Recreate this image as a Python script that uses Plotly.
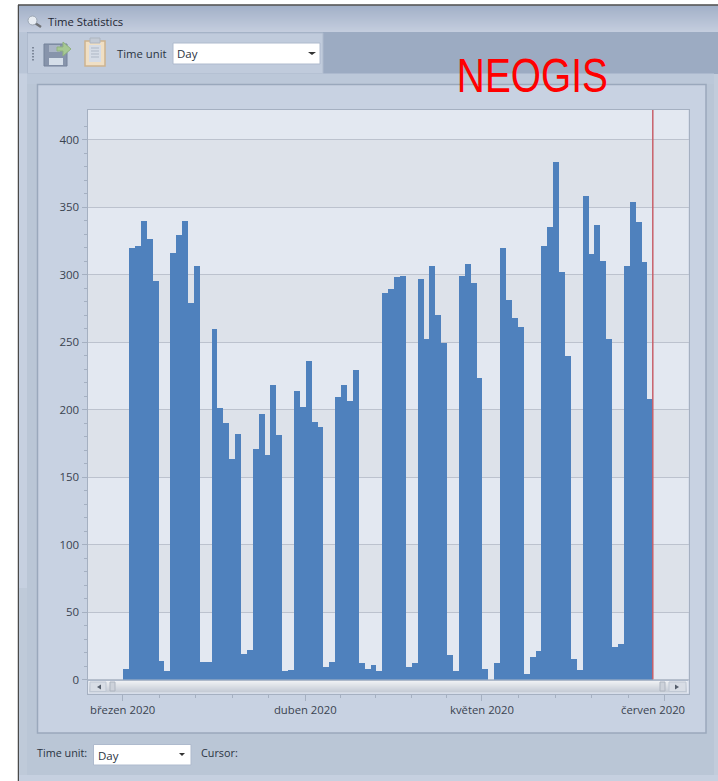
import plotly.graph_objects as go
import pandas as pd

W, H = 718, 781

# ---- data ----
start_date = "2020-03-01"
counts = [
    8, 320, 321, 340, 326, 295, 14, 6,
    316, 329, 340, 279, 306, 13, 13,
    260, 201, 190, 163, 182, 19, 22,
    171, 197, 166, 218, 181, 6, 7,
    214, 202, 236, 191, 187, 9, 13,
    209, 218, 206, 229, 12, 8, 11, 6,
    286, 289, 298, 299, 9, 12,
    297, 252, 306, 270, 249, 18, 6,
    299, 308, 294, 223, 8, 0, 12,
    320, 281, 268, 261, 4, 17, 21,
    321, 335, 383, 302, 240, 15, 7,
    358, 315, 337, 310, 252, 24, 26,
    306, 354, 339, 309, 208,
]
month_ticks = ["2020-03-01", "2020-04-01", "2020-05-01", "2020-06-01"]
month_labels = ["březen 2020", "duben 2020", "květen 2020", "červen 2020"]
y_ticks = [0, 50, 100, 150, 200, 250, 300, 350, 400]
cursor_date = "2020-05-30"
dates = pd.date_range(start_date, periods=len(counts), freq="D")

# ---- layout constants (pixels) ----
PX0, PX1, PY0, PY1 = 87.5, 688.5, 110, 693.5
Y_ZERO, PX_PER_UNIT = 679.5, 1.35
X_MAR1, PX_PER_DAY = 122.7, 5.89

yr = [-(PY1 - Y_ZERO) / PX_PER_UNIT, (Y_ZERO - PY0) / PX_PER_UNIT]
t0 = pd.Timestamp(start_date)
xr = [t0 + pd.Timedelta(days=(PX0 - X_MAR1) / PX_PER_DAY),
      t0 + pd.Timedelta(days=(PX1 - X_MAR1) / PX_PER_DAY)]

minor_x = []
for a, b in zip(month_ticks[:-1], month_ticks[1:]):
    a, b = pd.Timestamp(a), pd.Timestamp(b)
    minor_x += [a + (b - a) * i / 5 for i in range(1, 5)]
minor_x.insert(0, t0 - (pd.Timestamp(month_ticks[1]) - t0) / 5)

shapes, ann = [], []
def fx(x): return x / W
def fy(y): return 1 - y / H

def rect(x0, y0, x1, y1, fill, line=None, lw=1, layer="below"):
    shapes.append(dict(type="rect", xref="paper", yref="paper", x0=fx(x0), x1=fx(x1),
                       y0=fy(y1), y1=fy(y0), fillcolor=fill, layer=layer,
                       line=dict(color=line or "rgba(0,0,0,0)", width=lw if line else 0)))

def poly(points, fill, line=None, lw=1, layer="below"):
    d = "M" + " L".join(f"{fx(x):.5f},{fy(y):.5f}" for x, y in points) + " Z"
    shapes.append(dict(type="path", xref="paper", yref="paper", path=d, fillcolor=fill, layer=layer,
                       line=dict(color=line or "rgba(0,0,0,0)", width=lw if line else 0)))

def lin(x0, y0, x1, y1, color, lw=1, layer="below"):
    shapes.append(dict(type="line", xref="paper", yref="paper", x0=fx(x0), x1=fx(x1),
                       y0=fy(y0), y1=fy(y1), layer=layer, line=dict(color=color, width=lw)))

def vgrad(x0, y0, x1, y1, c0, c1, layer="below", steps=None):
    steps = steps or max(1, int(y1 - y0))
    a = [int(c0[i:i + 2], 16) for i in (1, 3, 5)]
    b = [int(c1[i:i + 2], 16) for i in (1, 3, 5)]
    for i in range(steps):
        t = i / max(1, steps - 1)
        c = "rgb(%d,%d,%d)" % tuple(round(p + (q - p) * t) for p, q in zip(a, b))
        rect(x0, y0 + (y1 - y0) * i / steps, x1, y0 + (y1 - y0) * (i + 1) / steps + .5, c, layer=layer)

def text(x, y, s, size=12, color="#2f3a4a", anchor="left", family="Open Sans"):
    ann.append(dict(xref="paper", yref="paper", x=fx(x), y=fy(y), text=s, showarrow=False,
                    xanchor=anchor, yanchor="middle", borderpad=0,
                    font=dict(family=family, size=size, color=color)))

# ---- window chrome ----
rect(18, 5, W, H, "#BAC6D6")
lin(18, 5, W, 5, "#4a4a4a", 1.5)
lin(18.5, 5, 18.5, H, "#4a4a4a", 1.5)
rect(19, 588, 27, 775, "#BFCAD9")
rect(19, 73, 27, 588, "#C6D0E0")
rect(19, 775, W, H, "#C6D0E0")
rect(714, 73, W, 775, "#C2CCDB")
vgrad(19, 6, W, 32, "#A3B1C8", "#C4CDDE")
rect(19, 32, W, 74, "#9CABC2")
rect(19, 32, 27, 74, "#B9C5D7")
rect(27.5, 33, 323, 73.5, "#C0CBDC", "#AEBACD", 1)
rect(19, 73.5, 27, 80, "#C6D0E0")
rect(27, 73.5, 714, 84, "#BCC8D9")

# magnifier icon
lin(35, 23, 41, 27, "#6f7276", 2.5)
shapes.append(dict(type="circle", xref="paper", yref="paper", x0=fx(28), x1=fx(37),
                   y0=fy(25), y1=fy(16), fillcolor="#E8EDF3", line=dict(color="#9ba6b3", width=1), layer="below"))

# grip
for gy in (47, 50, 53, 56, 59):
    rect(32, gy, 34, gy + 1.5, "#7d8899")

# save icon
rect(44, 44, 67, 66, "#8794AB", "#75829A", 1)
rect(49, 58, 63, 65, "#D5DEE9")
rect(49, 45, 60, 52, "#A9B4C6")
poly([(57, 47), (63, 47), (63, 42), (71, 49), (63, 56), (63, 51), (57, 51)], "#A6C893", "#90B27F", 1)

# clipboard icon
rect(85, 41, 105, 66, "#F0DFC4", "#CDB48F", 1.5)
rect(89, 45, 101, 62, "#D6DCE6")
for ly in (48, 51, 54, 57):
    lin(91, ly, 99, ly, "#AEB7C5", 1)
rect(90, 38, 100, 43, "#C3CAD5", "#AEB5BF", 1)

# combos
rect(173, 43, 320, 64, "#FFFFFF", "#AEBACD", 1)
poly([(308, 52), (316, 52), (312, 55)], "#333333")
rect(93.5, 744.5, 191, 765, "#FFFFFF", "#AEBACD", 1)
poly([(179, 753), (185, 753), (182, 756)], "#333333")

# chart panel
rect(37.5, 84.5, 706, 733, "#C8D2E2", "#9AA8BC", 1.5)

# alternating plot bands
rect(PX0, PY0, PX1, PY1, "#E3E8F1")
for lo, hi in zip(y_ticks[1::2], y_ticks[2::2]):
    shapes.append(dict(type="rect", xref="x", yref="y", x0=xr[0], x1=xr[1], y0=lo, y1=hi,
                       fillcolor="#DDE2EA", line=dict(width=0), layer="below"))

# cursor line, drawn from the axis scale
shapes.append(dict(type="line", xref="x", yref="y", x0=cursor_date, x1=cursor_date, y0=0, y1=yr[1],
                   line=dict(color="#C8606A", width=1.5), layer="above"))

# scrollbar on top of the plot
vgrad(89, 681, 687, 692, "#EEF0F3", "#C6CCD6", layer="above", steps=11)
rect(PX0, 679.5, PX1, 681, "#AEB9CA", layer="above")
for bx0, bx1 in ((90, 106), (669, 686)):
    rect(bx0, 682, bx1, 691.5, "#D8DDE5", "#BFC7D3", 1, layer="above")
poly([(101, 684.5), (101, 689.5), (97, 687)], "#555E6B", layer="above")
poly([(675, 684.5), (675, 689.5), (679, 687)], "#555E6B", layer="above")
rect(110, 682, 115, 691, "#CDD2DA", "#AEB5C0", 1, layer="above")
rect(660, 682, 665, 691, "#CDD2DA", "#AEB5C0", 1, layer="above")

# texts
text(46.5, 21, "Time Statistics", 11.3, "#1f2733")
text(116, 53.5, "Time unit", 11.3, "#2b3442")
text(176, 54, "Day", 11.5, "#2b3442")
text(36, 752, "Time unit:", 10.8, "#2b3442")
text(97, 755, "Day", 11.5, "#2b3442")
text(200, 752, "Cursor:", 10.8, "#2b3442")
text(532.5, 75, "NEOGIS", 48, "#FF0000", "center", "Liberation Sans")
# the last month label sits left of its tick, kept inside the plot width
text(652.5, 709, month_labels[-1], 11.3, "#3a4350", "center")

tick_text = month_labels[:-1] + [""]

fig = go.Figure(go.Bar(
    x=dates, y=counts, width=86400000, offset=0,
    marker=dict(color="#4F81BD", line=dict(color="#8FAED6", width=0)),
    hoverinfo="x+y",
))

AX = "#A5B0C1"
fig.update_layout(
    width=W, height=H, margin=dict(l=0, r=0, t=0, b=0, autoexpand=False), autosize=False,
    paper_bgcolor="#FFFFFF", plot_bgcolor="rgba(0,0,0,0)",
    showlegend=False, bargap=0, shapes=shapes, annotations=ann,
    xaxis=dict(
        domain=[fx(PX0), fx(PX1)], type="date", range=xr, tickmode="array", automargin=False,
        tickvals=month_ticks, ticktext=tick_text, ticks="outside", ticklen=6, tickwidth=1,
        tickcolor=AX, showgrid=False, showline=True, linecolor=AX, linewidth=1, mirror=True,
        zeroline=False, tickangle=0,
        tickfont=dict(family="Open Sans", size=11.3, color="#3a4350"),
        minor=dict(tickmode="array", tickvals=minor_x, ticks="outside", ticklen=3,
                   tickcolor=AX, tickwidth=1, showgrid=False),
    ),
    yaxis=dict(
        domain=[fy(PY1), fy(PY0)], range=yr, tickmode="array", tickvals=y_ticks, automargin=False,
        ticks="outside", ticklen=5, tickwidth=1, tickcolor=AX, showgrid=True,
        gridcolor="#BCC2CE", gridwidth=1, showline=True, linecolor=AX, linewidth=1, mirror=True,
        zeroline=False, tickfont=dict(family="Open Sans", size=11.5, color="#3a4350"),
        minor=dict(tickmode="array", tickvals=[v for v in range(10, 420, 10) if v % 50], ticks="outside",
                   ticklen=3, tickcolor=AX, tickwidth=1, showgrid=False),
    ),
)

fig.write_html("out.html", config=dict(displayModeBar=False), post_script="""
document.body.style.margin='0';
document.querySelectorAll('.annotation-text').forEach(function(t){
  if(t.textContent==='NEOGIS'){t.setAttribute('textLength','151');t.setAttribute('lengthAdjust','spacingAndGlyphs');}
});
""")
